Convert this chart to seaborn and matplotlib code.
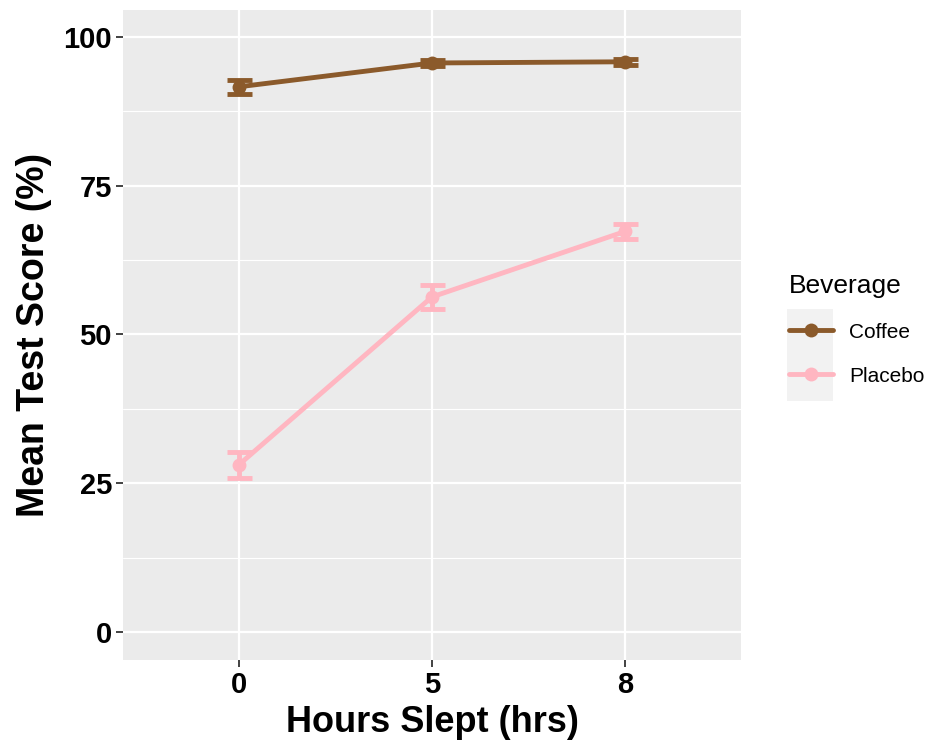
import numpy as np
import matplotlib
matplotlib.use("Agg")
import matplotlib.pyplot as plt
import seaborn as sns
import pandas as pd
from matplotlib.patches import Rectangle
from matplotlib.lines import Line2D

# values
hours = ["0", "5", "8"]
beverages = ["Coffee", "Placebo"]
coffee_mean = [91.6, 95.6, 95.8]
coffee_se = [1.2, 0.5, 0.5]
placebo_mean = [28.1, 56.3, 67.3]
placebo_se = [2.2, 2.0, 1.3]
colors = {"Coffee": "#8B5A2B", "Placebo": "#FFB6C1"}

df = pd.DataFrame({
    "hours": hours * 2,
    "beverage": ["Coffee"] * 3 + ["Placebo"] * 3,
    "score": coffee_mean + placebo_mean,
    "se": coffee_se + placebo_se,
})

sns.set_theme(style="darkgrid")
plt.rcParams["font.family"] = ["Liberation Sans", "DejaVu Sans"]

fig = plt.figure(figsize=(9.34, 7.48), dpi=100)
ax = fig.add_axes([123 / 934, 1 - 660 / 748, (741 - 123) / 934, (660 - 10) / 748])
ax.set_facecolor("#EBEBEB")

sns.lineplot(data=df, x="hours", y="score", hue="beverage", palette=colors,
             linewidth=3.5, marker="o", markersize=10, markeredgewidth=0,
             legend=False, ax=ax, sort=False)
for bev in beverages:
    sub = df[df["beverage"] == bev]
    ax.errorbar(np.arange(len(sub)), sub["score"], yerr=sub["se"], fmt="none",
                ecolor=colors[bev], elinewidth=3.5, capsize=9, capthick=3.5)

ax.set_xlim(-0.6, 2.6)
ax.set_ylim(-4.7, 104.5)
ax.set_yticks([0, 25, 50, 75, 100])
ax.set_yticks([12.5, 37.5, 62.5, 87.5], minor=True)
ax.grid(which="major", color="white", linewidth=1.6)
ax.grid(which="minor", axis="y", color="white", linewidth=0.8)
ax.grid(which="minor", axis="x", visible=False)
for s in ax.spines.values():
    s.set_visible(False)

ax.tick_params(axis="both", which="major", bottom=True, left=True, length=5,
               width=1.3, color="#333333", labelsize=21, labelcolor="black", pad=3)
ax.tick_params(which="minor", length=0)
for lab in ax.get_xticklabels() + ax.get_yticklabels():
    lab.set_fontweight("bold")

ax.set_xlabel("Hours Slept (hrs)", fontsize=26, fontweight="bold", color="black", labelpad=4)
ax.set_ylabel("Mean Test Score (%)", fontsize=27, fontweight="bold", color="black", labelpad=8)

# legend with grey key background
fig.patches.append(Rectangle((787 / 934, 1 - 401 / 748), 46 / 934, 92 / 748,
                             transform=fig.transFigure, facecolor="#F2F2F2",
                             edgecolor="none", zorder=0))
handles = [Line2D([], [], color=colors[b], linewidth=3.5, marker="o",
                  markersize=10, markeredgewidth=0) for b in beverages]
leg = fig.legend(handles, beverages, title="Beverage", loc="upper left",
                 bbox_to_anchor=(770 / 934, 1 - 255 / 748), frameon=False,
                 fontsize=15, title_fontsize=19, handlelength=2.1,
                 labelspacing=1.2, handletextpad=0.8, alignment="left")
for t in leg.get_texts():
    t.set_color("black")
leg.get_title().set_color("black")

fig.savefig("out.png", dpi=100, facecolor="white")
